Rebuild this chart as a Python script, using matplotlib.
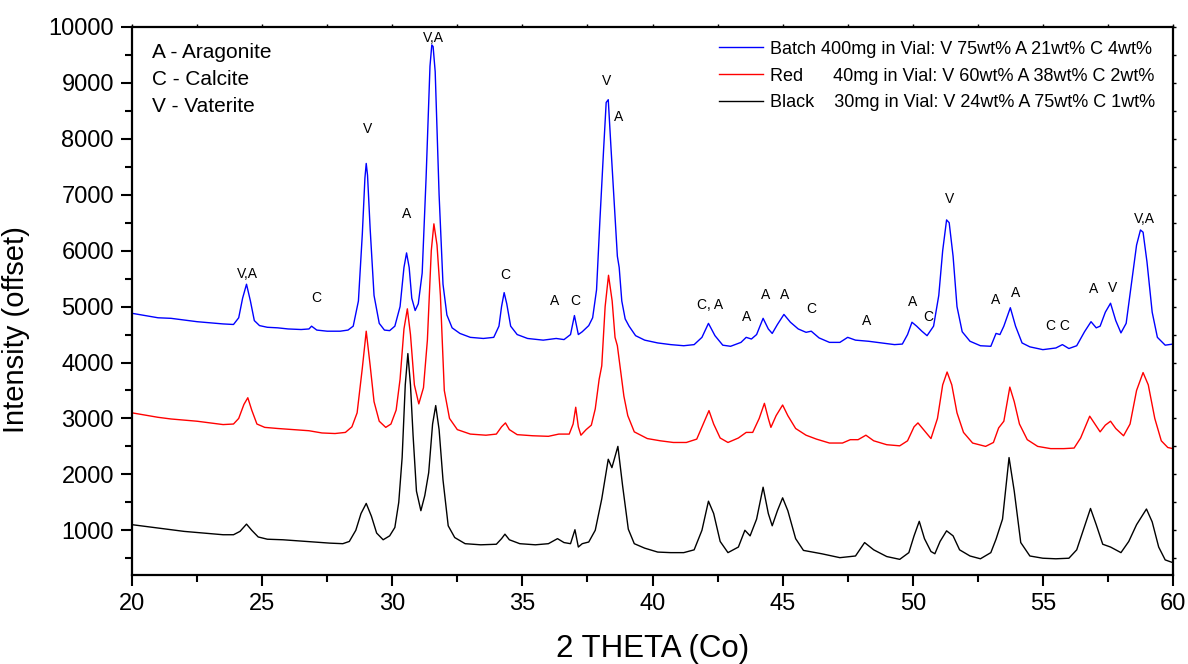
import matplotlib
matplotlib.use("Agg")
import matplotlib.pyplot as plt
from matplotlib.ticker import MultipleLocator

plt.rcParams['font.family'] = ['Liberation Sans', 'DejaVu Sans']

# ---------------- data ----------------
batch_x = [20.0, 20.5, 21.0, 21.5, 22.0, 22.5, 23.0, 23.5, 23.9, 24.1, 24.25, 24.4, 24.55, 24.7, 24.9,
           25.2, 25.6, 26.0, 26.5, 26.8, 26.9, 27.1, 27.5, 28.0, 28.3, 28.5, 28.7, 28.85, 28.95, 29.0,
           29.05, 29.15, 29.3, 29.5, 29.7, 29.9, 30.1, 30.3, 30.45, 30.55, 30.65, 30.75, 30.88, 31.0,
           31.15, 31.3, 31.45, 31.52, 31.57, 31.65, 31.8, 31.95, 32.1, 32.3, 32.6, 33.0, 33.5, 33.9,
           34.1, 34.2, 34.3, 34.4, 34.55, 34.8, 35.2, 35.8, 36.3, 36.6, 36.85, 37.0, 37.15, 37.3,
           37.55, 37.7, 37.85, 37.98, 38.12, 38.22, 38.3, 38.41, 38.57, 38.65, 38.72, 38.82, 38.95,
           39.1, 39.35, 39.7, 40.2, 40.7, 41.2, 41.6, 41.9, 42.15, 42.4, 42.7, 43.0, 43.4, 43.6, 43.8,
           44.0, 44.25, 44.45, 44.6, 44.8, 45.05, 45.3, 45.6, 45.9, 46.1, 46.4, 46.8, 47.2, 47.5,
           47.8, 48.3, 48.8, 49.3, 49.6, 49.8, 49.97, 50.15, 50.35, 50.55, 50.8, 51.0, 51.15, 51.3,
           51.4, 51.55, 51.7, 51.9, 52.2, 52.6, 53.0, 53.2, 53.35, 53.5, 53.75, 53.95, 54.2, 54.5,
           55.0, 55.5, 55.75, 56.0, 56.3, 56.6, 56.85, 57.05, 57.2, 57.4, 57.6, 57.8, 58.0, 58.2,
           58.4, 58.6, 58.75, 58.85, 59.0, 59.2, 59.4, 59.7, 60.0]
batch_y = [4880, 4840, 4800, 4790, 4760, 4730, 4710, 4690, 4680, 4800, 5150, 5400, 5100, 4750, 4660,
           4630, 4620, 4600, 4590, 4600, 4650, 4580, 4560, 4560, 4580, 4650, 5100, 6300, 7300, 7560,
           7350, 6400, 5200, 4700, 4580, 4570, 4650, 5000, 5700, 5960, 5700, 5150, 4930, 5050,
           5600, 7300, 9300, 9680, 9650, 9200, 7000, 5400, 4850, 4620, 4520, 4450, 4430, 4450,
           4650, 5000, 5250, 5050, 4650, 4500, 4430, 4400, 4430, 4410, 4500, 4840, 4500, 4550,
           4660, 4800, 5300, 6550, 7800, 8650, 8700, 7800, 6550, 5900, 5700, 5100, 4780,
           4650, 4480, 4400, 4350, 4320, 4300, 4320, 4450, 4700, 4480, 4310, 4290, 4360, 4450, 4420,
           4500, 4790, 4600, 4520, 4680, 4860, 4720, 4600, 4540, 4560, 4440, 4360, 4360, 4450,
           4400, 4380, 4350, 4320, 4330, 4500, 4720, 4650, 4560, 4480, 4650, 5200, 6000, 6550,
           6500, 5900, 5000, 4550, 4380, 4300, 4290, 4520, 4500, 4650, 4980, 4650, 4350, 4280,
           4230, 4260, 4320, 4250, 4300, 4550, 4730, 4620, 4650, 4900, 5060, 4750, 4530, 4700,
           5400, 6100, 6370, 6330, 5800, 4900, 4450, 4310, 4330]

red_x = [20.0, 20.5, 21.0, 21.5, 22.0, 22.5, 23.0, 23.5, 23.9, 24.1, 24.3, 24.45, 24.6, 24.8, 25.1,
         25.6, 26.2, 26.8, 27.3, 27.8, 28.2, 28.45, 28.65, 28.85, 29.0, 29.15, 29.3, 29.5, 29.75,
         29.95, 30.15, 30.3, 30.45, 30.58, 30.7, 30.85, 31.02, 31.2, 31.35, 31.5, 31.6, 31.72, 31.85,
         32.0, 32.2, 32.5, 33.0, 33.6, 34.0, 34.2, 34.35, 34.5, 34.8, 35.4, 36.0, 36.4, 36.8, 36.95,
         37.05, 37.15, 37.25, 37.45, 37.65, 37.8, 37.95, 38.05, 38.18, 38.31, 38.45, 38.56, 38.65,
         38.75, 38.9, 39.05, 39.3, 39.8, 40.3, 40.8, 41.3, 41.7, 41.95, 42.17, 42.35, 42.6, 42.9,
         43.3, 43.6, 43.85, 44.1, 44.3, 44.45, 44.55, 44.75, 45.0, 45.2, 45.5, 45.9, 46.3, 46.8,
         47.3, 47.6, 47.9, 48.2, 48.5, 49.0, 49.5, 49.8, 50.05, 50.2, 50.45, 50.7, 50.95, 51.15,
         51.32, 51.5, 51.7, 51.95, 52.3, 52.8, 53.1, 53.3, 53.5, 53.73, 53.9, 54.1, 54.4, 54.8,
         55.3, 55.8, 56.2, 56.45, 56.8, 57.0, 57.2, 57.4, 57.6, 57.8, 58.1, 58.35, 58.6, 58.85,
         59.05, 59.3, 59.55, 59.8, 60.0]
red_y = [3100, 3060, 3020, 2990, 2970, 2950, 2920, 2890, 2900, 3000, 3250, 3370, 3150, 2900, 2840,
         2820, 2800, 2780, 2740, 2730, 2750, 2850, 3100, 3900, 4560, 3950, 3300, 2950, 2840,
         2900, 3150, 3700, 4600, 4960, 4500, 3600, 3260, 3550, 4400, 6000, 6480, 6100, 5200,
         3500, 3000, 2800, 2720, 2700, 2720, 2850, 2920, 2800, 2710, 2690, 2680, 2720, 2720, 2900,
         3200, 2850, 2700, 2800, 2880, 3170, 3700, 3940, 5000, 5560, 5100, 4450, 4300,
         3940, 3400, 3050, 2760, 2640, 2600, 2570, 2570, 2630, 2900, 3140, 2900, 2650, 2570,
         2650, 2750, 2750, 3000, 3270, 3000, 2840, 3050, 3240, 3050, 2820, 2700, 2630, 2560,
         2560, 2620, 2620, 2700, 2600, 2530, 2510, 2600, 2850, 2920, 2780, 2640, 3000, 3600,
         3830, 3600, 3100, 2750, 2560, 2500, 2570, 2830, 2950, 3560, 3300, 2900, 2620, 2500,
         2460, 2460, 2470, 2650, 3040, 2900, 2760, 2880, 2950, 2820, 2690, 2900, 3500, 3820,
         3600, 3000, 2600, 2480, 2460]

black_x = [20.0, 20.5, 21.0, 21.5, 22.0, 22.5, 23.0, 23.5, 23.9, 24.15, 24.4, 24.6, 24.85, 25.2,
           25.8, 26.4, 27.0, 27.6, 28.1, 28.35, 28.6, 28.8, 29.0, 29.2, 29.4, 29.65, 29.9, 30.1,
           30.25, 30.38, 30.5, 30.6, 30.7, 30.8, 30.93, 31.1, 31.25, 31.4, 31.55, 31.67, 31.8, 31.95,
           32.15, 32.4, 32.8, 33.4, 34.0, 34.2, 34.33, 34.5, 34.9, 35.5, 36.0, 36.35, 36.6, 36.85,
           37.02, 37.15, 37.3, 37.55, 37.8, 38.05, 38.3, 38.44, 38.67, 38.85, 39.07, 39.3, 39.7,
           40.2, 40.7, 41.2, 41.6, 41.9, 42.15, 42.35, 42.6, 42.9, 43.3, 43.55, 43.75, 44.0, 44.25,
           44.45, 44.6, 44.8, 45.0, 45.2, 45.5, 45.8, 46.5, 47.2, 47.8, 48.15, 48.5, 49.0, 49.5,
           49.85, 50.05, 50.25, 50.45, 50.7, 50.85, 51.05, 51.3, 51.55, 51.8, 52.2, 52.6, 53.0,
           53.2, 53.45, 53.7, 53.9, 54.15, 54.5, 55.0, 55.5, 56.0, 56.3, 56.55, 56.83, 57.05, 57.3,
           57.6, 58.0, 58.3, 58.6, 58.98, 59.2, 59.45, 59.7, 60.0]
black_y = [1100, 1070, 1040, 1010, 980, 960, 940, 920, 920, 980, 1110, 1000, 880, 840,
           830, 810, 790, 770, 760, 800, 1000, 1300, 1480, 1250, 950, 830, 900, 1050,
           1500, 2300, 3600, 4160, 3600, 2700, 1700, 1350, 1620, 2030, 2900, 3230, 2800, 1900,
           1080, 870, 760, 740, 750, 850, 930, 830, 760, 740, 760, 850, 780, 760,
           1010, 700, 760, 790, 1000, 1560, 2270, 2120, 2500, 1800, 1020, 760, 680,
           610, 600, 600, 650, 1000, 1520, 1300, 800, 600, 700, 1000, 900, 1200, 1770,
           1300, 1080, 1350, 1580, 1350, 850, 640, 580, 510, 540, 780, 650, 530, 480,
           600, 900, 1160, 850, 620, 580, 800, 990, 900, 650, 540, 490, 600,
           840, 1200, 2300, 1700, 780, 540, 500, 490, 500, 650, 1000, 1390, 1100, 750,
           700, 600, 800, 1100, 1380, 1150, 700, 470, 420]

series_labels = ["Batch 400mg in Vial: V 75wt% A 21wt% C 4wt%",
                 "Red      40mg in Vial: V 60wt% A 38wt% C 2wt%",
                 "Black    30mg in Vial: V 24wt% A 75wt% C 1wt%"]
series_colors = ["#0000ff", "#ff0000", "#000000"]

peak_label_x = [24.43, 27.08, 29.05, 30.55, 31.59, 34.36, 36.24, 37.05, 38.25, 38.71, 42.21, 43.6,
                44.33, 45.06, 46.1, 48.21, 49.98, 50.6, 51.41, 53.18, 53.95, 55.57, 56.95, 57.68, 58.91]
peak_label_y = [5590, 5157, 8168, 6663, 9800, 5570, 5104, 5104, 9028, 8383, 5032, 4817,
                5211, 5211, 4960, 4745, 5086, 4817, 6931, 5122, 5247, 4656, 5319, 5337, 6573]
peak_label_text = ["V,A", "C", "V", "A", "V,A", "C", "A", "C", "V", "A", "C, A", "A",
                   "A", "A", "C", "A", "A", "C", "V", "A", "A", "C C", "A", "V", "V,A"]

phase_key = "A - Aragonite\nC - Calcite\nV - Vaterite"
x_ticks = [20, 25, 30, 35, 40, 45, 50, 55, 60]
y_ticks = [1000, 2000, 3000, 4000, 5000, 6000, 7000, 8000, 9000, 10000]

# ---------------- figure ----------------
W, H = 1188, 664
L, R, T, B = 132, 1173, 27, 575
fig = plt.figure(figsize=(W / 100, H / 100), dpi=100)
ax = fig.add_axes([L / W, 1 - B / H, (R - L) / W, (B - T) / H])

for xs, ys, lab, col in zip([batch_x, red_x, black_x], [batch_y, red_y, black_y],
                            series_labels, series_colors):
    ax.plot(xs, ys, color=col, lw=1.0, label=lab)

ax.set_xlim(20, 60)
ax.set_ylim(200, 10000)
ax.set_xticks(x_ticks)
ax.set_yticks(y_ticks)
ax.xaxis.set_minor_locator(MultipleLocator(2.5))
ax.yaxis.set_minor_locator(MultipleLocator(500))

for sp in ax.spines.values():
    sp.set_linewidth(1.6)

ax.tick_params(axis='both', which='major', direction='out', length=8, width=1.5,
               labelsize=17, pad=5)
ax.tick_params(axis='both', which='minor', direction='out', length=5, width=1.5)
ax.tick_params(top=True, right=True, which='both', labeltop=False, labelright=False)
# mirrored ticks on top/right are short
for t in (ax.xaxis.get_major_ticks() + ax.xaxis.get_minor_ticks()
          + ax.yaxis.get_major_ticks() + ax.yaxis.get_minor_ticks()):
    t.tick2line.set_markersize(2.5)
    t.tick2line.set_markeredgewidth(1.0)

ax.set_xlabel("2 THETA (Co)", fontsize=22.5, labelpad=14)
ax.set_ylabel("Intensity (offset)", fontsize=21)
ax.yaxis.set_label_coords(-0.098, (B - 330) / (B - T))

for px, py, t in zip(peak_label_x, peak_label_y, peak_label_text):
    ax.text(px, py, t, fontsize=10, ha='center', va='center', color='black')

ax.text((152 - L) / (R - L), 1 - (43 - T) / (B - T), phase_key, transform=ax.transAxes,
        fontsize=15, va='top', ha='left', linespacing=1.55)

leg = ax.legend(loc='upper right', bbox_to_anchor=(0.993, 0.995), frameon=False, fontsize=13,
                handlelength=2.4, handletextpad=0.4, labelspacing=0.55, borderaxespad=0.2)

fig.savefig("out.png", dpi=100)
